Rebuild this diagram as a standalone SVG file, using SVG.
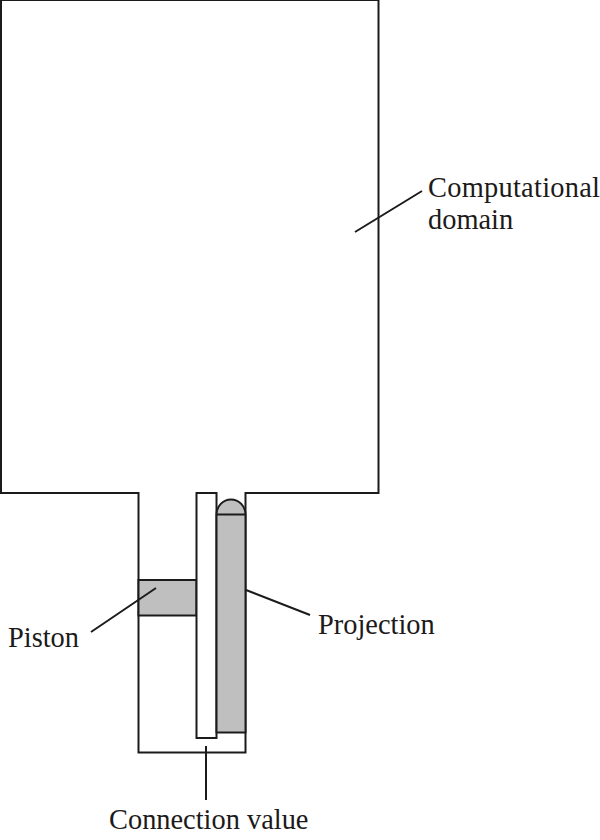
<svg xmlns="http://www.w3.org/2000/svg" width="600" height="840" viewBox="0 0 600 840">
<style>
.l{fill:none;stroke:#1c1a1a;stroke-width:2}
.g{fill:#c0bfbf;stroke:#1c1a1a;stroke-width:2}
.w{fill:#fff;stroke:#1c1a1a;stroke-width:2}
text{font-family:"Liberation Serif",serif;font-size:28.4px;fill:#1c1a1a}
</style>
<rect width="600" height="840" fill="#fff"/>
<g id="domain"><path class="l" d="M1 0V493H138.500V752.500H245.500V493H378.500V0H1"/></g>
<g id="piston"><rect class="g" x="138.500" y="580" width="58" height="35.500"/><text x="8" y="647">Piston</text></g>
<g id="valve"><rect class="w" x="196.500" y="493" width="20" height="245"/><text x="109" y="829">Connection value</text></g>
<g id="projection"><path class="g" d="M216.500 514.500A14.500 15 0 0 1 245.500 514.500V732.500H216.500Z"/><path class="l" d="M216.500 514.500H245.500"/><text x="318" y="634">Projection</text></g>
<g id="label-domain"><text x="428" y="197" textLength="172">Computational</text><text x="428" y="229">domain</text></g>
<g id="connectors"><path class="l" d="M355 232L422 191M91 632L156 588M246 590L310 615M206 746V800"/></g>
</svg>
